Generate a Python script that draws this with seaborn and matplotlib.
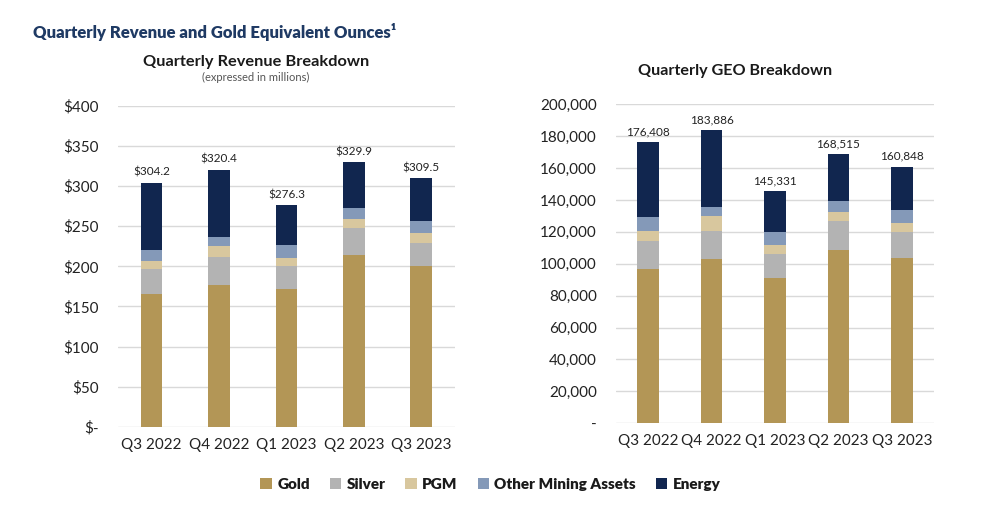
import numpy as np
import pandas as pd
import matplotlib.pyplot as plt
import seaborn as sns
from matplotlib.patches import Patch

# Data
quarters = ["Q3 2022", "Q4 2022", "Q1 2023", "Q2 2023", "Q3 2023"]
segments = ["Gold", "Silver", "PGM", "Other Mining Assets", "Energy"]

rev_gold = [165.5, 177.0, 172.0, 214.0, 200.0]
rev_silver = [31.5, 34.5, 28.0, 34.0, 29.0]
rev_pgm = [9.3, 13.5, 11.0, 11.6, 12.0]
rev_other = [13.7, 11.7, 16.0, 13.4, 16.0]
rev_total = [304.2, 320.4, 276.3, 329.9, 309.5]

geo_gold = [96900, 102700, 91000, 108300, 103500]
geo_silver = [17100, 18100, 15000, 18300, 16300]
geo_pgm = [6800, 9400, 5900, 5700, 5800]
geo_other = [8200, 5600, 7900, 6800, 8100]
geo_total = [176408, 183886, 145331, 168515, 160848]

colors = {
    "Gold": "#B39656",
    "Silver": "#B3B3B3",
    "PGM": "#D8C79E",
    "Other Mining Assets": "#8499B8",
    "Energy": "#11264F",
}

sns.set_theme(style="white")
plt.rcParams["font.family"] = ["Lato", "DejaVu Sans"]


def stacked(ax, gold, silver, pgm, other, total, width):
    energy = np.array(total) - np.array(gold) - np.array(silver) - np.array(pgm) - np.array(other)
    df = pd.DataFrame({"Quarter": quarters, "Gold": gold, "Silver": silver,
                       "PGM": pgm, "Other Mining Assets": other, "Energy": energy})
    cum = df[segments].cumsum(axis=1)
    # draw tallest first so shorter stacks sit on top
    for seg in reversed(segments):
        sns.barplot(x=df["Quarter"], y=cum[seg], color=colors[seg], width=width,
                    ax=ax, saturation=1, linewidth=0, zorder=3)
    ax.grid(axis="y", color="#D9D9D9", linewidth=1, zorder=0)
    ax.set_axisbelow(True)
    sns.despine(ax=ax, left=True, bottom=True)
    ax.set_xlabel("")
    ax.set_ylabel("")
    ax.tick_params(axis="both", length=0, labelsize=11, colors="#222222")
    ax.tick_params(axis="y", pad=14)
    ax.tick_params(axis="x", pad=8)


fig = plt.figure(figsize=(9.91, 5.29), dpi=100)
ax1 = fig.add_axes([0.119, 0.193, 0.340, 0.607])
ax2 = fig.add_axes([0.622, 0.200, 0.320, 0.603])

# Revenue chart
stacked(ax1, rev_gold, rev_silver, rev_pgm, rev_other, rev_total, 0.32)
ax1.set_ylim(0, 400)
ax1.set_xlim(-0.5, 4.5)
ticks1 = np.arange(0, 401, 50)
ax1.set_yticks(ticks1)
ax1.set_yticklabels(["$-"] + [f"${t}" for t in ticks1[1:]])
for i, v in enumerate(rev_total):
    ax1.text(i, v + 6, f"${v:.1f}", ha="center", va="bottom", fontsize=8.5, color="#222222")

# GEO chart
stacked(ax2, geo_gold, geo_silver, geo_pgm, geo_other, geo_total, 0.34)
ax2.set_ylim(0, 200000)
ax2.set_xlim(-0.5, 4.5)
ticks2 = np.arange(0, 200001, 20000)
ax2.set_yticks(ticks2)
ax2.set_yticklabels(["-"] + [f"{t:,}" for t in ticks2[1:]])
for i, v in enumerate(geo_total):
    ax2.text(i, v + 3000, f"{v:,}", ha="center", va="bottom", fontsize=8.5, color="#222222")

# Titles
fig.text(0.033, 0.94, "Quarterly Revenue and Gold Equivalent Ounces\u00b9", fontsize=12,
         fontweight="heavy", color="#1F3A64", ha="left", va="center")
fig.text(0.258, 0.883, "Quarterly Revenue Breakdown", fontsize=11.8, fontweight="bold",
         color="#1A1A1A", ha="center", va="center")
fig.text(0.258, 0.853, "(expressed in millions)", fontsize=8, color="#555555",
         ha="center", va="center")
fig.text(0.742, 0.866, "Quarterly GEO Breakdown", fontsize=11.6, fontweight="bold",
         color="#1A1A1A", ha="center", va="center")

# Legend
handles = [Patch(facecolor=colors[s], edgecolor="none") for s in segments]
leg = fig.legend(handles, segments, loc="center", bbox_to_anchor=(0.495, 0.085), ncol=5,
                 frameon=False, handlelength=0.75, handleheight=0.75, columnspacing=1.3,
                 handletextpad=0.35, prop={"weight": "heavy", "size": 11})
for t in leg.get_texts():
    t.set_color("#1A1A1A")

fig.savefig("out.png", dpi=100)
